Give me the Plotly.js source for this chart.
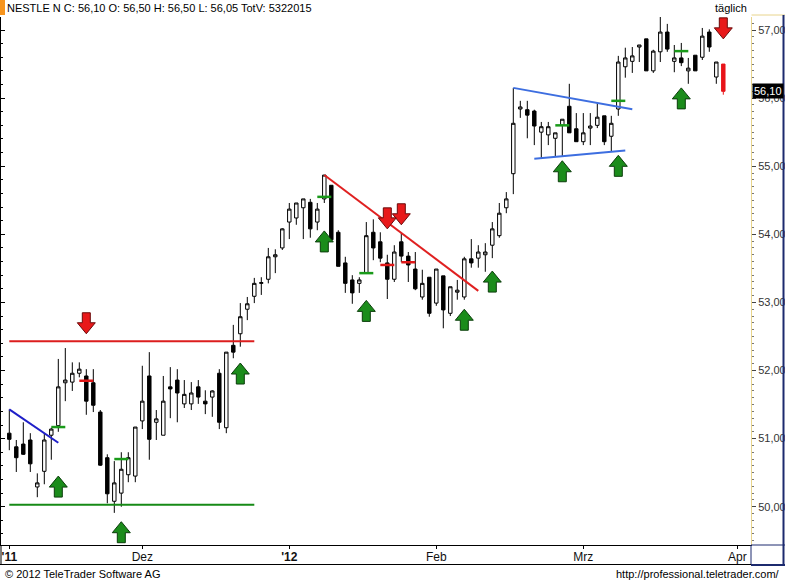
<!DOCTYPE html>
<html><head><meta charset="utf-8">
<script src="https://cdn.plot.ly/plotly-3.0.1.min.js"></script>
<style>html,body{margin:0;padding:0;background:#fff}#chart{width:785px;height:583px}</style>
</head><body><div id="chart"></div>
<script>
// ---- data ----
const openP  = [51.08,50.88,50.92,50.98,50.29,50.52,51.05,51.19,51.82,51.83,51.96,51.92,51.82,51.39,50.72,50.08,50.20,50.47,50.45,51.26,
                51.92,51.24,51.05,51.76,51.86,51.51,51.51,51.76,51.55,51.61,51.96,51.16,52.37,52.54,52.90,53.09,53.28,53.34,53.67,53.80,
                54.18,54.24,54.39,54.47,54.18,54.52,54.72,54.03,53.58,53.33,53.28,53.43,54.03,53.89,53.58,53.34,53.89,53.68,53.49,53.08,
                53.37,52.99,53.39,52.84,53.15,53.08,53.64,53.65,53.70,53.84,53.98,54.39,54.89,55.84,55.83,55.81,55.50,55.46,55.41,55.60,
                55.88,55.55,55.36,55.56,55.60,55.74,55.44,55.84,56.46,56.54,56.75,56.87,56.40,56.68,56.97,56.54,56.59,56.40,56.63,56.60,
                56.97,56.31,56.50];
const highP  = [51.43,50.98,51.24,51.08,50.49,51.08,51.16,52.17,52.33,52.12,52.12,52.02,52.02,51.42,50.77,50.67,50.80,50.80,51.17,52.07,
                52.27,51.42,51.92,52.05,52.02,51.86,51.83,51.86,51.71,51.71,52.02,52.27,52.67,52.99,53.08,53.36,53.37,53.80,53.78,54.09,
                54.46,54.46,54.52,54.52,54.46,54.87,54.72,54.06,53.67,53.40,53.37,54.18,54.22,54.03,53.70,53.84,54.02,53.74,53.74,53.48,
                53.37,53.49,53.39,53.23,53.33,53.67,53.93,53.84,53.87,54.18,54.46,54.62,56.15,55.96,55.96,55.83,55.65,55.65,55.49,55.69,
                56.21,55.78,55.78,55.78,55.93,55.74,55.74,56.62,56.74,56.75,56.78,56.87,56.71,57.21,57.09,56.78,56.81,56.59,56.63,57.03,
                57.01,56.53,56.50];
const lowP   = [50.83,50.51,50.76,50.51,50.14,50.33,50.69,51.10,51.55,51.70,51.90,51.35,51.39,50.60,50.05,49.91,50.00,50.36,50.36,51.14,
                50.69,50.98,51.05,51.30,51.24,51.45,51.42,51.51,51.36,51.32,51.14,51.08,52.18,52.35,52.74,52.99,53.11,53.28,53.43,53.77,
                53.93,54.14,53.93,53.95,54.06,54.46,53.89,53.53,53.14,52.98,53.14,53.43,53.62,53.59,53.05,53.30,53.59,53.30,53.18,53.04,
                52.79,52.95,52.62,52.80,53.04,53.04,53.51,53.51,53.45,53.65,53.95,54.31,54.59,55.71,55.41,55.31,55.11,55.31,55.14,55.14,
                55.49,55.36,55.31,55.31,55.56,55.31,55.21,55.74,56.30,56.37,56.53,56.40,56.37,56.53,56.68,56.38,56.47,56.21,56.40,56.56,
                56.68,56.21,56.05];
const closeP = [50.99,50.72,50.77,50.63,50.35,50.98,51.14,51.76,51.86,51.96,52.02,51.55,51.49,50.61,50.19,50.35,50.55,50.72,51.17,51.55,
                50.99,51.29,51.55,51.73,51.67,51.65,51.67,51.61,51.51,51.70,51.24,52.27,52.27,52.79,52.98,53.28,53.29,53.67,53.70,54.08,
                54.37,54.46,54.52,54.08,54.37,54.87,53.92,53.53,53.28,53.14,53.33,53.98,53.80,53.65,53.34,53.74,53.68,53.55,53.20,53.28,
                52.84,53.49,52.89,53.23,53.18,53.64,53.58,53.74,53.74,54.08,54.31,54.52,55.63,55.87,55.75,55.59,55.58,55.58,55.49,55.69,
                55.49,55.36,55.49,55.59,55.72,55.36,55.63,56.53,56.59,56.62,56.78,56.40,56.69,56.97,56.72,56.59,56.52,56.44,56.40,56.91,
                56.75,56.53,56.10];

// month tick labels (placed on the trading-day index where each month starts)
const monthTickIdx = [0, 19, 40, 61, 82, 104];
const monthTickText = ["<b>'11</b>", "Dez", "<b>'12</b>", "Feb", "Mrz", "Apr"];

// drawn analysis lines (trading-day index, price)
const resistX = [0, 35],  resistY = [52.43, 52.43];
const supportX = [0, 35], supportY = [50.03, 50.03];
const blueTrendX = [0, 7], blueTrendY = [51.43, 50.94];
const redTrendX = [45, 67], redTrendY = [54.87, 53.17];
const triUpperX = [72, 89], triUpperY = [56.15, 55.835];
const triLowerX = [75, 88], triLowerY = [55.11, 55.23];

// signal marks
const greenMarkIdx = [7, 16, 45, 51, 79, 87, 96];
const greenMarkPrice = [51.17, 50.70, 54.55, 53.43, 55.60, 55.96, 56.69];
const redMarkIdx = [11, 54, 57];
const redMarkPrice = [51.85, 53.55, 53.59];

// arrows (index, tip price)
const upArrowIdx = [7, 16, 33, 45, 51, 65, 69, 79, 87, 96];
const upArrowTip = [50.45, 49.78, 52.11, 54.05, 53.03, 52.90, 53.46, 55.08, 55.16, 56.15];
const downArrowIdx = [11, 54, 56, 102];
const downArrowTip = [52.54, 54.08, 54.14, 56.87];

const lastPriceLabel = "56,10", lastPrice = 56.10;

// ---- geometry ----
const X_MIN = -1.1857, X_MAX = 105.957;
const Y_MIN = 49.438, Y_MAX = 57.191;
const PW = 750, PH = 528;
const xPerPx = (X_MAX - X_MIN) / PW, yPerPx = (Y_MAX - Y_MIN) / PH;

const n = openP.length;
const idx = openP.map((_, i) => i);
const last = n - 1;

const traces = [];
traces.push({
  type: 'candlestick', x: idx.slice(0, last), open: openP.slice(0, last), high: highP.slice(0, last),
  low: lowP.slice(0, last), close: closeP.slice(0, last),
  increasing: {line: {color: '#000', width: 1}, fillcolor: '#ffffff'},
  decreasing: {line: {color: '#000', width: 1}, fillcolor: '#000000'},
  whiskerwidth: 0, showlegend: false, hoverinfo: 'skip'
});
traces.push({
  type: 'candlestick', x: idx.slice(last), open: openP.slice(last), high: highP.slice(last),
  low: lowP.slice(last), close: closeP.slice(last),
  increasing: {line: {color: '#e8141a', width: 1}, fillcolor: '#e8141a'},
  decreasing: {line: {color: '#e8141a', width: 1}, fillcolor: '#e8141a'},
  whiskerwidth: 0, showlegend: false, hoverinfo: 'skip'
});

function lineTrace(x, y, color, w) {
  return {type: 'scatter', mode: 'lines', x: x, y: y, line: {color: color, width: w}, showlegend: false, hoverinfo: 'skip'};
}
traces.push(lineTrace(resistX, resistY, '#dc1e1e', 2));
traces.push(lineTrace(supportX, supportY, '#168a16', 2));
traces.push(lineTrace(blueTrendX, blueTrendY, '#1f1fc8', 2));
traces.push(lineTrace(redTrendX, redTrendY, '#e02020', 2));
traces.push(lineTrace(triUpperX, triUpperY, '#3d6ee0', 2));
traces.push(lineTrace(triLowerX, triLowerY, '#3d6ee0', 2));

function markSegs(ix, pr) {
  const x = [], y = [];
  ix.forEach((c, k) => { x.push(c - 1, c + 1, null); y.push(pr[k], pr[k], null); });
  return {x, y};
}
const gm = markSegs(greenMarkIdx, greenMarkPrice);
traces.push(lineTrace(gm.x, gm.y, '#1a9a1a', 2.5));
const rm = markSegs(redMarkIdx, redMarkPrice);
traces.push(lineTrace(rm.x, rm.y, '#e01818', 2.5));

function arrows(ix, tips, dir) {
  const hw = 9 * xPerPx, sw = 4 * xPerPx, hh = 11 * yPerPx, tot = 21 * yPerPx;
  const x = [], y = [];
  ix.forEach((c, k) => {
    const t = tips[k], s = dir; // dir=+1 up arrow (body below tip), -1 down arrow
    x.push(c, c + hw, c + sw, c + sw, c - sw, c - sw, c - hw, c, null);
    y.push(t, t - s * hh, t - s * hh, t - s * tot, t - s * tot, t - s * hh, t - s * hh, t, null);
  });
  return {x, y};
}
const ua = arrows(upArrowIdx, upArrowTip, 1);
traces.push({type: 'scatter', mode: 'lines', x: ua.x, y: ua.y, fill: 'toself', fillcolor: '#1b8c1b',
  line: {color: '#0b3d0b', width: 1}, showlegend: false, hoverinfo: 'skip'});
const da = arrows(downArrowIdx, downArrowTip, -1);
traces.push({type: 'scatter', mode: 'lines', x: da.x, y: da.y, fill: 'toself', fillcolor: '#e8191a',
  line: {color: '#6a0a0a', width: 1}, showlegend: false, hoverinfo: 'skip'});

// helper trace for the right price axis
traces.push({type: 'scatter', mode: 'lines', x: [null], y: [null], yaxis: 'y2', showlegend: false, hoverinfo: 'skip'});

const px2x = p => (p - 1) / PW;       // page x -> paper x
const py2y = p => (545 - p) / PH;     // page y -> paper y
const FONT = 'Liberation Sans, Arial, sans-serif';

const layout = {
  width: 785, height: 583,
  margin: {l: 1, r: 34, t: 17, b: 38, pad: 0},
  paper_bgcolor: '#ffffff', plot_bgcolor: '#ffffff',
  font: {family: FONT, size: 11, color: '#000'},
  separators: ',.',
  showlegend: false,
  title: {text: 'NESTLE N C: 56,10 O: 56,50 H: 56,50 L: 56,05 TotV: 5322015',
          x: 7 / 785, xanchor: 'left', xref: 'container', y: 1 - 8.5 / 583, yanchor: 'middle', yref: 'container',
          font: {family: FONT, size: 11, color: '#000'}},
  xaxis: {range: [X_MIN, X_MAX], showgrid: false, zeroline: false, showline: true, linecolor: '#000', linewidth: 1,
          ticks: 'outside', ticklen: 3, tickcolor: '#000', tickvals: monthTickIdx, ticktext: monthTickText,
          ticklabelstandoff: -2,
          tickfont: {family: FONT, size: 12, color: '#111'}, rangeslider: {visible: false}, fixedrange: true},
  yaxis: {range: [Y_MIN, Y_MAX], side: 'left', showgrid: false, zeroline: false, showline: true, linecolor: '#000',
          linewidth: 1, ticks: 'inside', ticklen: 4, tickcolor: '#000', dtick: 1, tick0: 0, showticklabels: false,
          minor: {ticks: 'inside', dtick: 0.2, ticklen: 2, tickcolor: '#000'}, fixedrange: true},
  yaxis2: {range: [Y_MIN, Y_MAX], overlaying: 'y', side: 'right', anchor: 'x', showgrid: false, zeroline: false,
           showline: true, linecolor: '#e8d48c', linewidth: 1, ticks: 'outside', ticklen: 4, tickcolor: '#444',
           dtick: 1, tick0: 0, tickformat: '.2f', tickfont: {family: FONT, size: 11, color: '#333'},
           minor: {ticks: 'outside', dtick: 0.1, ticklen: 2, tickcolor: '#777'}, fixedrange: true},
  shapes: [
    {type: 'rect', xref: 'paper', yref: 'paper', x0: px2x(0), x1: px2x(5), y0: py2y(15), y1: py2y(0),
     fillcolor: '#f7941d', line: {width: 0}},
    {type: 'line', xref: 'paper', yref: 'paper', x0: px2x(751.5), x1: px2x(785), y0: py2y(15), y1: py2y(15),
     line: {color: '#e8d48c', width: 1}},
    {type: 'line', xref: 'paper', yref: 'paper', x0: px2x(783.5), x1: px2x(783.5), y0: py2y(565), y1: py2y(15),
     line: {color: '#1c2a6e', width: 2}},
    {type: 'line', xref: 'paper', yref: 'paper', x0: px2x(751), x1: px2x(785), y0: py2y(545), y1: py2y(545),
     line: {color: '#1c2a6e', width: 1}},
    {type: 'line', xref: 'paper', yref: 'paper', x0: px2x(751), x1: px2x(785), y0: py2y(565), y1: py2y(565),
     line: {color: '#1c2a6e', width: 2}},
    {type: 'line', xref: 'paper', yref: 'paper', x0: px2x(751), x1: px2x(751), y0: py2y(565), y1: py2y(545),
     line: {color: '#1c2a6e', width: 1}},
    {type: 'line', xref: 'paper', yref: 'paper', x0: px2x(0), x1: px2x(751), y0: py2y(564.5), y1: py2y(564.5),
     line: {color: '#000', width: 1}},
    {type: 'line', xref: 'paper', yref: 'paper', x0: px2x(1), x1: px2x(1), y0: py2y(565), y1: py2y(545),
     line: {color: '#000', width: 1}}
  ],
  annotations: [
    {text: 'täglich', xref: 'paper', yref: 'paper', x: px2x(731), y: py2y(8), xanchor: 'center', yanchor: 'middle',
     showarrow: false, font: {family: FONT, size: 11, color: '#000'}},
    {text: lastPriceLabel, xref: 'paper', yref: 'y', x: px2x(752), y: lastPrice, xanchor: 'left', yanchor: 'middle',
     showarrow: false, bgcolor: '#000', borderpad: 1, font: {family: FONT, size: 11, color: '#fff'}},
    {text: '© 2012 TeleTrader Software AG', xref: 'paper', yref: 'paper', x: px2x(3), y: py2y(574),
     xanchor: 'left', yanchor: 'middle', showarrow: false, font: {family: FONT, size: 11, color: '#000'}},
    {text: 'http://professional.teletrader.com/', xref: 'paper', yref: 'paper', x: px2x(782), y: py2y(574),
     xanchor: 'right', yanchor: 'middle', showarrow: false, font: {family: FONT, size: 11, color: '#000'}}
  ]
};

Plotly.newPlot('chart', traces, layout, {displayModeBar: false, staticPlot: true});
</script></body></html>
